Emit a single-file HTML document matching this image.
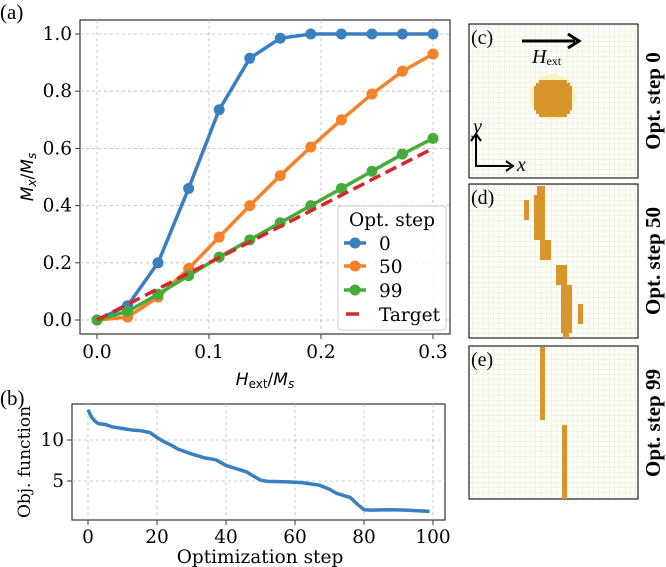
<!DOCTYPE html>
<html><head><meta charset="utf-8"><style>
html,body{margin:0;padding:0;background:#fff;}
svg{display:block;font-family:"DejaVu Serif","Liberation Serif",serif;}
</style></head><body>
<svg width="666" height="567" viewBox="0 0 666 567">
<defs>
<pattern id="cells" width="5.25" height="5.13" patternUnits="userSpaceOnUse">
<rect width="5.25" height="5.13" fill="#fefef7"/>
<path d="M0 0H5.25M0 0V5.13" stroke="#d9dfcf" stroke-width="0.6" fill="none"/>
</pattern>
</defs>
<g id="chartA"></g>
<g id="chartB"></g>
<text x="0" y="19" font-size="21" font-family="Liberation Serif,serif">(a)</text>
<text x="0" y="405" font-size="21" font-family="Liberation Serif,serif">(b)</text>

<g>
<rect x="469" y="24" width="169" height="154" fill="url(#cells)" stroke="#222" stroke-width="1.2"/>
<circle cx="553" cy="97" r="23" fill="#f6f2b0" opacity="0.8"/>
<rect x="534" y="86" width="38" height="24" fill="#d8952c"/>
<rect x="539" y="80" width="28" height="37" fill="#d8952c"/>
<rect x="536" y="83" width="34" height="31" fill="#d8952c"/>
<text x="471" y="44" font-size="20" font-family="Liberation Serif,serif">(c)</text>
<line x1="522" y1="41" x2="575" y2="41" stroke="#000" stroke-width="3"/>
<path d="M568 34 L579 41 L568 48" fill="none" stroke="#000" stroke-width="3"/>
<text x="532" y="63" font-size="20" font-style="italic" font-family="Liberation Serif,serif">H<tspan font-size="12" font-style="normal" dy="2">ext</tspan></text>
<path d="M476 135 V166 H512" fill="none" stroke="#000" stroke-width="2"/>
<path d="M471 141 L476 134 L481 141 M506 161 L513 166 L506 171" fill="none" stroke="#000" stroke-width="2"/>
<text x="473" y="133" font-size="20" font-style="italic" font-family="Liberation Serif,serif">y</text>
<text x="517" y="171" font-size="20" font-style="italic" font-family="Liberation Serif,serif">x</text>
</g>
<g>
<rect x="469" y="184" width="169" height="154" fill="url(#cells)" stroke="#222" stroke-width="1.2"/>
<g fill="#d8952c">
<rect x="537" y="186" width="8" height="10"/>
<rect x="534" y="195" width="11" height="45"/>
<rect x="524" y="200" width="5" height="20"/>
<rect x="540" y="240" width="11" height="20"/>
<rect x="556" y="265" width="11" height="20"/>
<rect x="561" y="285" width="11" height="48"/>
<rect x="563" y="330" width="6" height="8"/>
<rect x="578" y="304" width="5" height="20"/>
</g>
<text x="471" y="204" font-size="20" font-family="Liberation Serif,serif">(d)</text>
</g>
<g>
<rect x="469" y="346" width="169" height="153" fill="url(#cells)" stroke="#222" stroke-width="1.2"/>
<g fill="#d8952c">
<rect x="540" y="347" width="5" height="73"/>
<rect x="562" y="425" width="5" height="74"/>
</g>
<text x="471" y="366" font-size="20" font-family="Liberation Serif,serif">(e)</text>
</g>
<g font-size="21" font-family="Liberation Serif,serif" font-weight="bold">
<text transform="translate(660,101) rotate(-90)" text-anchor="middle">Opt. step 0</text>
<text transform="translate(660,261) rotate(-90)" text-anchor="middle">Opt. step 50</text>
<text transform="translate(660,423) rotate(-90)" text-anchor="middle">Opt. step 99</text>
</g>
</svg>
<script>
const hValues=[0,0.0273,0.0545,0.0818,0.1091,0.1364,0.1636,0.1909,0.2182,0.2455,0.2727,0.3];
const step0=[0,0.05,0.2,0.46,0.735,0.915,0.985,1.0,1.0,1.0,1.0,1.0];
const step50=[0,0.01,0.08,0.18,0.29,0.4,0.505,0.605,0.7,0.79,0.87,0.93];
const step99=[0,0.03,0.09,0.155,0.22,0.28,0.34,0.4,0.46,0.52,0.58,0.635];
const targetX=[0,0.3];
const targetY=[0,0.6];
const xTicksA=[0,0.1,0.2,0.3];
const yTicksA=[0,0.2,0.4,0.6,0.8,1.0];
const objSteps=[0,1,2,3,5,7,10,13,15,18,20,22,24,26,30,34,37,40,43,46,48,50,52,58,62,67,70,72,76,78,80,82,88,92,99];
const objValues=[13.7,12.8,12.3,12.0,11.9,11.6,11.4,11.2,11.15,10.9,10.3,9.8,9.4,8.9,8.3,7.8,7.6,6.9,6.5,6.1,5.6,5.1,4.95,4.9,4.8,4.5,4.0,3.5,3.0,2.2,1.5,1.45,1.5,1.45,1.3];
const xTicksB=[0,20,40,60,80,100];
const yTicksB=[5,10];

const NS="http://www.w3.org/2000/svg";
function mk(p,t,a){const e=document.createElementNS(NS,t);for(const k in a)e.setAttribute(k,a[k]);p.appendChild(e);return e;}
const FS=18.5;
// chart A
const A=document.getElementById('chartA');
const ax=v=>97+v/0.1*112, ay=v=>320-v*286;
mk(A,'rect',{x:80,y:20,width:370,height:314,fill:'#fff',stroke:'#333','stroke-width':1.2});
xTicksA.forEach(t=>{
 const g=mk(A,'line',{x1:ax(t),x2:ax(t),y1:20,y2:334,stroke:'#bbb','stroke-dasharray':'3,3','stroke-width':0.8});
 
 
 mk(A,'line',{x1:ax(t),x2:ax(t),y1:334,y2:339,stroke:'#333'});
 const l=mk(A,'text',{x:ax(t),y:358,'text-anchor':'middle','font-size':FS});
 l.textContent=t.toFixed(1);
 
 
});
yTicksA.forEach(t=>{
 const g=mk(A,'line',{x1:80,x2:450,y1:ay(t),y2:ay(t),stroke:'#bbb','stroke-dasharray':'3,3','stroke-width':0.8});
 
 
 mk(A,'line',{x1:75,x2:80,y1:ay(t),y2:ay(t),stroke:'#333'});
 const l=mk(A,'text',{x:72,y:ay(t)+6,'text-anchor':'end','font-size':FS});
 l.textContent=t.toFixed(1);
 
 
});
const series=[[step0,'#3a7fbf','series-step-0'],[step50,'#f5822a','series-step-50'],[step99,'#45ac3a','series-step-99']];
series.forEach(([d,c,n])=>{
 const g=mk(A,'g',{});
 
 
 mk(g,'polyline',{points:d.map((v,i)=>ax(hValues[i])+','+ay(v)).join(' '),fill:'none',stroke:c,'stroke-width':3.5});
 d.forEach((v,i)=>{const p=mk(g,'circle',{cx:ax(hValues[i]),cy:ay(v),r:5.5,fill:c});
  
  });
});
const tl=mk(A,'line',{x1:ax(targetX[0]),y1:ay(targetY[0]),x2:ax(targetX[1]),y2:ay(targetY[1]),stroke:'#d62728','stroke-width':3.5,'stroke-dasharray':'12,6'});


const lg=mk(A,'g',{});


mk(lg,'rect',{x:338,y:206,width:108,height:124,rx:3,fill:'#fff','fill-opacity':0.85,stroke:'#ccc'});
const tt=mk(lg,'text',{x:392,y:226,'text-anchor':'middle','font-size':FS});tt.textContent='Opt. step';
[['0','#3a7fbf',243],['50','#f5822a',266],['99','#45ac3a',290]].forEach(([t,c,y])=>{
 mk(lg,'line',{x1:344,x2:366,y1:y,y2:y,stroke:c,'stroke-width':3.5});
 mk(lg,'circle',{cx:355,cy:y,r:5.5,fill:c});
 const e=mk(lg,'text',{x:379,y:y+7,'font-size':FS});e.textContent=t;
});
mk(lg,'line',{x1:346,x2:359,y1:314,y2:314,stroke:'#d62728','stroke-width':3.5});
const te=mk(lg,'text',{x:379,y:321,'font-size':FS});te.textContent='Target';
const xl=mk(A,'text',{x:265,y:385,'text-anchor':'middle','font-size':17,'font-family':'DejaVu Sans,sans-serif'});
xl.innerHTML='<tspan font-style="italic">H</tspan><tspan font-size="12" dy="3">ext</tspan><tspan dy="-3">/</tspan><tspan font-style="italic">M</tspan><tspan font-size="12" font-style="italic" dy="3">s</tspan>';


const yl=mk(A,'text',{transform:'translate(33,177) rotate(-90)','text-anchor':'middle','font-size':17,'font-family':'DejaVu Sans,sans-serif'});
yl.innerHTML='<tspan font-style="italic">M</tspan><tspan font-size="12" font-style="italic" dy="3">x</tspan><tspan dy="-3">/</tspan><tspan font-style="italic">M</tspan><tspan font-size="12" font-style="italic" dy="3">s</tspan>';


// chart B
const B=document.getElementById('chartB');
const bx=v=>88+v*3.45, by=v=>522-v*8.2;
mk(B,'rect',{x:72,y:404,width:373,height:116,fill:'#fff',stroke:'#333','stroke-width':1.2});
xTicksB.forEach(t=>{
 mk(B,'line',{x1:bx(t),x2:bx(t),y1:404,y2:520,stroke:'#bbb','stroke-dasharray':'3,3','stroke-width':0.8});
 mk(B,'line',{x1:bx(t),x2:bx(t),y1:520,y2:525,stroke:'#333'});
 const l=mk(B,'text',{x:bx(t),y:543,'text-anchor':'middle','font-size':FS});l.textContent=t;
 
 
});
yTicksB.forEach(t=>{
 mk(B,'line',{x1:72,x2:445,y1:by(t),y2:by(t),stroke:'#bbb','stroke-dasharray':'3,3','stroke-width':0.8});
 mk(B,'line',{x1:67,x2:72,y1:by(t),y2:by(t),stroke:'#333'});
 const l=mk(B,'text',{x:64,y:by(t)+6,'text-anchor':'end','font-size':FS});l.textContent=t;
 
 
});
const oc=mk(B,'polyline',{points:objSteps.map((s,i)=>bx(s)+','+by(objValues[i])).join(' '),fill:'none',stroke:'#3a7fbf','stroke-width':3.5,'stroke-linejoin':'round'});


const bxl=mk(B,'text',{x:260,y:563,'text-anchor':'middle','font-size':FS});bxl.textContent='Optimization step';


const byl=mk(B,'text',{transform:'translate(30,462) rotate(-90)','text-anchor':'middle','font-size':17});byl.textContent='Obj. function';


</script>
</body></html>
